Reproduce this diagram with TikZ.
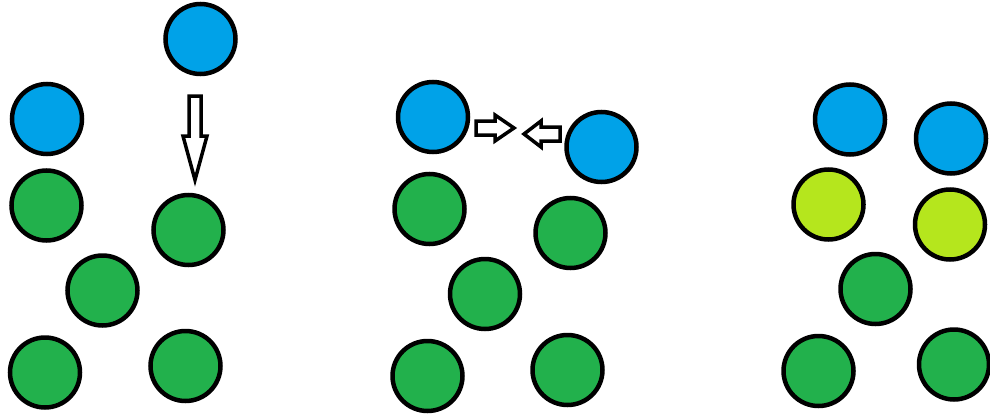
\documentclass[tikz,border=0pt]{standalone}
\usepackage{tikz}
\definecolor{paintblue}{HTML}{00A2E8}
\definecolor{paintgreen}{HTML}{22B14C}
\definecolor{paintlime}{HTML}{B5E61D}

\begin{document}
\begin{tikzpicture}[
  x=1pt, y=-1pt,
  ball/.style={circle, draw, line width=4.5pt, minimum size=70pt, inner sep=0pt},
  hollow/.style={draw, fill=white, line width=3.5pt, line join=miter}
]
\useasboundingbox (0,0) rectangle (990,415);
% first panel: one ball drops in
\node[ball, fill=paintblue] (dropA) at (200.5,39) {};
\node[ball, fill=paintblue] (topA) at (47,119) {};
\node[ball, fill=paintgreen] (a1) at (46.5,205.5) {};
\node[ball, fill=paintgreen] (a2) at (188.5,230) {};
\node[ball, fill=paintgreen] (a3) at (102.5,290.5) {};
\node[ball, fill=paintgreen] (a4) at (45,372.5) {};
\node[ball, fill=paintgreen] (a5) at (185.5,366) {};
\draw[hollow] (189,96) -- (201,96) -- (201,136) -- (207,136) -- (195,180)
  -- (183,136) -- (189,136) -- cycle;
% second panel: the two blue balls meet
\node[ball, fill=paintblue] (topB) at (433,117) {};
\node[ball, fill=paintblue] (dropB) at (601.5,147) {};
\node[ball, fill=paintgreen] (b1) at (429.5,209) {};
\node[ball, fill=paintgreen] (b2) at (570.5,233) {};
\node[ball, fill=paintgreen] (b3) at (485,294) {};
\node[ball, fill=paintgreen] (b4) at (427.5,376) {};
\node[ball, fill=paintgreen] (b5) at (567.5,370) {};
\draw[hollow] (476,121) -- (495,121) -- (495,115) -- (514,128) -- (495,141)
  -- (495,135) -- (476,135) -- cycle;
\draw[hollow] (560,127) -- (541,127) -- (541,121) -- (524,134) -- (541,147)
  -- (541,141) -- (560,141) -- cycle;
% third panel: the pair below turns lime
\node[ball, fill=paintblue] (topC) at (850,119.5) {};
\node[ball, fill=paintblue] (dropC) at (951,138.5) {};
\node[ball, fill=paintlime] (c1) at (828.5,204.5) {};
\node[ball, fill=paintlime] (c2) at (950,224.5) {};
\node[ball, fill=paintgreen] (c3) at (875.5,289) {};
\node[ball, fill=paintgreen] (c4) at (818.5,371) {};
\node[ball, fill=paintgreen] (c5) at (954,364.5) {};
\end{tikzpicture}
\end{document}
